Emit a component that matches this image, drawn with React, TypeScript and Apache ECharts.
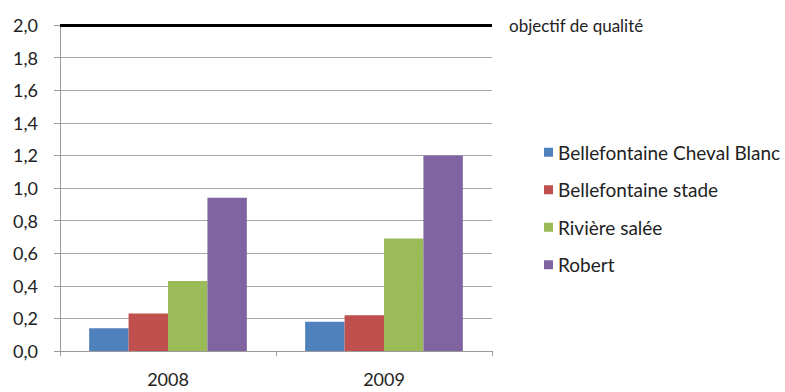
import React, { useEffect, useRef } from "react";
import * as echarts from "echarts";

const years = ["2008", "2009"];
const stations = [
  "Bellefontaine Cheval Blanc",
  "Bellefontaine stade",
  "Rivière salée",
  "Robert",
];
const chevalBlanc = [0.14, 0.18];
const stade = [0.23, 0.22];
const riviereSalee = [0.43, 0.69];
const robert = [0.94, 1.2];
const stationColors = ["#4f81bd", "#c0504d", "#9bbb59", "#8064a2"];
const objectifQualite = 2.0;
const objectifLabel = "objectif de qualité";

const fmt = (v: number) => v.toFixed(1).replace(".", ",");

export default function App() {
  const ref = useRef<HTMLDivElement>(null);
  useEffect(() => {
    if (!ref.current) return;
    const chart = echarts.init(ref.current, null, { renderer: "svg" });
    const values = [chevalBlanc, stade, riviereSalee, robert];
    const font = "Lato";
    chart.setOption({
      animation: false,
      backgroundColor: "#ffffff",
      textStyle: { fontFamily: font },
      grid: { left: 60, right: 293, top: 25, bottom: 41 },
      legend: {
        orient: "vertical",
        left: 539,
        top: 137,
        itemWidth: 9,
        itemHeight: 9,
        itemGap: 17,
        icon: "rect",
        data: stations,
        textStyle: { fontFamily: font, fontSize: 19, color: "#222", lineHeight: 20.5 },
      },
      xAxis: {
        type: "category",
        data: years,
        axisLine: { lineStyle: { color: "#9a9a9a" } },
        axisTick: { show: true, length: 5, lineStyle: { color: "#9a9a9a" } },
        axisLabel: { margin: 19, fontSize: 18, color: "#222", fontFamily: font },
      },
      yAxis: {
        type: "value",
        min: 0,
        max: 2,
        interval: 0.2,
        axisLine: { show: true, lineStyle: { color: "#9a9a9a" } },
        axisTick: { show: true, length: 6, lineStyle: { color: "#9a9a9a" } },
        splitLine: { lineStyle: { color: "#a8a8a8" } },
        axisLabel: {
          margin: 22,
          fontSize: 18,
          color: "#222",
          fontFamily: font,
          formatter: (v: number) => fmt(v),
        },
      },
      series: stations.map((name, i) => ({
        name,
        type: "bar",
        data: values[i],
        barGap: "0%",
        barCategoryGap: "27%",
        itemStyle: { color: stationColors[i] },
        ...(i === 0
          ? {
              markLine: {
                silent: true,
                symbol: "none",
                data: [{ yAxis: objectifQualite }],
                lineStyle: { color: "#000", width: 3, type: "solid" },
                label: {
                  show: true,
                  position: "end",
                  distance: 17,
                  formatter: objectifLabel,
                  fontFamily: font,
                  fontSize: 17,
                  color: "#222",
                },
              },
            }
          : {}),
      })),
    });
    return () => chart.dispose();
  }, []);
  return (
    <div
      ref={ref}
      style={{ position: "fixed", left: 0, top: 0, width: 785, height: 392 }}
    />
  );
}
